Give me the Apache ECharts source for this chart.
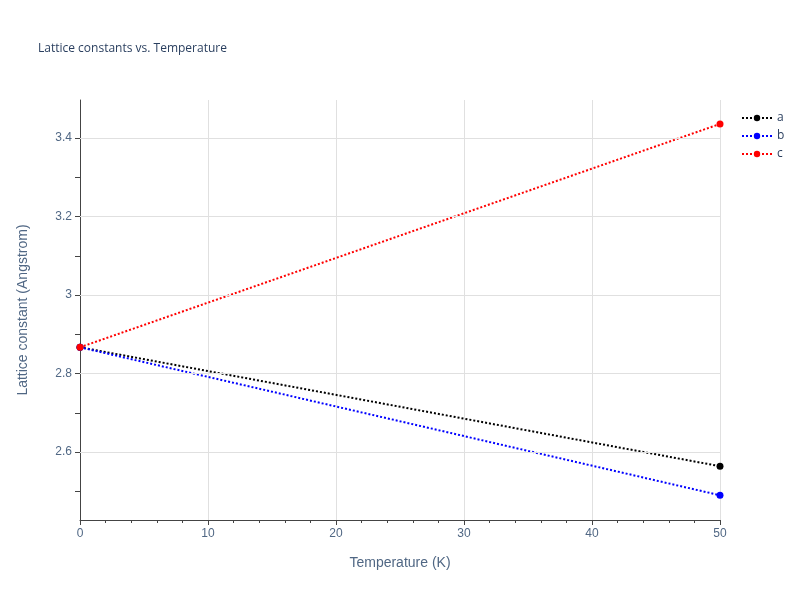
<!DOCTYPE html>
<html><head><meta charset="utf-8">
<script src="https://cdn.jsdelivr.net/npm/echarts@6/dist/echarts.min.js"></script>
<style>html,body{margin:0;padding:0}#c{width:800px;height:600px}</style>
</head><body><div id="c"></div>
<script>
const temperatures = [0, 50];
const seriesA = [2.867, 2.564];
const seriesB = [2.867, 2.490];
const seriesC = [2.867, 3.436];
const yTicks = [2.6, 2.8, 3.0, 3.2, 3.4];
const names = ['a', 'b', 'c'];
const colors = ['#000000', '#0000ff', '#ff0000'];
const vals = [seriesA, seriesB, seriesC];

const chart = echarts.init(document.getElementById('c'));
chart.setOption({
  animation: false,
  backgroundColor: '#fff',
  title: { text: 'Lattice constants vs. Temperature', left: 33, top: 38,
    textStyle: { fontSize: 12, fontWeight: 'normal', color: '#2a3f5f', fontFamily: 'Open Sans, sans-serif' } },
  legend: { orient: 'vertical', left: 736, top: 107, itemGap: 6, itemWidth: 30, itemHeight: 8,
    textStyle: { fontSize: 12, color: '#2a3f5f', fontFamily: 'Open Sans, sans-serif' },
    data: names },
  grid: { left: 80, right: 80, top: 100, bottom: 80 },
  xAxis: { type: 'value', min: 0, max: 50, interval: 10,
    name: 'Temperature (K)', nameLocation: 'middle', nameGap: 36,
    nameTextStyle: { fontSize: 14, color: '#506784' },
    axisLine: { show: true, onZero: false, lineStyle: { color: '#444' } },
    axisTick: { show: true, length: 5, lineStyle: { color: '#444' } },
    minorTick: { show: true, splitNumber: 5, length: 3, lineStyle: { color: '#444' } },
    axisLabel: { fontSize: 12, color: '#506784' },
    splitLine: { show: true, lineStyle: { color: '#e0e0e0' } } },
  yAxis: { type: 'value', min: 2.427, max: 3.497,
    name: 'Lattice constant (Angstrom)', nameLocation: 'middle', nameGap: 50,
    nameTextStyle: { fontSize: 14, color: '#506784' },
    axisLine: { show: true, lineStyle: { color: '#444' } },
    axisTick: { show: true, length: 5, customValues: [2.5,2.6,2.7,2.8,2.9,3.0,3.1,3.2,3.3,3.4], lineStyle: { color: '#444' } },
    axisLabel: { fontSize: 12, color: '#506784', customValues: yTicks,
      formatter: v => (Math.abs(v - 3) < 1e-9 ? '3' : v.toFixed(1)) },
    splitLine: { show: false } },
  series: names.map((n, i) => ({
    name: n, type: 'line', symbol: 'circle', symbolSize: 7,
    data: temperatures.map((t, j) => [t, vals[i][j]]),
    itemStyle: { color: colors[i] },
    lineStyle: { color: colors[i], width: 2, type: [2, 2] },
    markLine: i === 0 ? { silent: true, symbol: 'none', label: { show: false },
      lineStyle: { color: '#e0e0e0', type: 'solid', width: 1 },
      data: yTicks.map(v => ({ yAxis: v })) } : undefined,
    z: 3
  }))
});
</script></body></html>
